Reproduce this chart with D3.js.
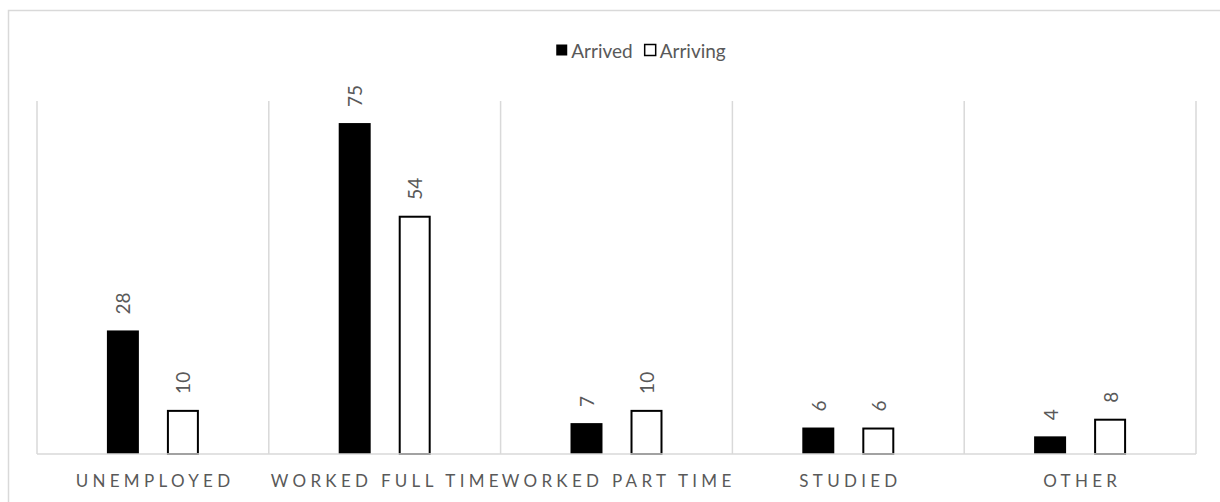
<!DOCTYPE html>
<html>
<head>
<meta charset="utf-8">
<script src="https://cdn.jsdelivr.net/npm/d3@7"></script>
<style>
  html, body { margin: 0; padding: 0; background: #ffffff; }
  svg { display: block; }
  text { font-family: Lato, "Open Sans", sans-serif; }
</style>
</head>
<body>
<svg id="chart" width="1220" height="502"></svg>
<script>
// Previous status of respondents, by group
const categories = ["UNEMPLOYED", "WORKED FULL TIME", "WORKED PART TIME", "STUDIED", "OTHER"];
const seriesNames = ["Arrived", "Arriving"];
const arrived = [28, 75, 7, 6, 4];
const arriving = [10, 54, 10, 6, 8];
const seriesValues = [arrived, arriving];

const plot = { left: 37, right: 1196, top: 101, bottom: 454 };
const textGray = "#595959";
const lineGray = "#d9d9d9";

const svg = d3.select("#chart");

// chart area frame
svg.append("rect")
  .attr("x", 8.5).attr("y", 10.5)
  .attr("width", 1230).attr("height", 510)
  .attr("fill", "#fff")
  .attr("stroke", lineGray).attr("stroke-width", 1.5);

const x = d3.scaleBand()
  .domain(categories)
  .range([plot.left, plot.right])
  .padding(0);

const xSub = d3.scaleBand()
  .domain(seriesNames)
  .range([0, x.bandwidth()])
  .paddingInner(0.467)
  .paddingOuter(1.165);

const y = d3.scaleLinear()
  .domain([0, 80])
  .range([plot.bottom, plot.top]);

// vertical separators between categories
const edges = categories.map(c => x(c)).concat([plot.right]);
svg.append("g")
  .selectAll("line")
  .data(edges)
  .join("line")
  .attr("x1", d => d).attr("x2", d => d)
  .attr("y1", y(80)).attr("y2", y(0))
  .attr("stroke", lineGray).attr("stroke-width", 1.5);

// bars
const rows = [];
categories.forEach((c, i) => {
  seriesNames.forEach((s, j) => rows.push({ cat: c, series: s, value: seriesValues[j][i] }));
});

const bars = svg.append("g");
bars.selectAll("rect")
  .data(rows)
  .join("rect")
  .attr("x", d => x(d.cat) + xSub(d.series) + (d.series === "Arriving" ? 1 : 0))
  .attr("y", d => y(d.value) + (d.series === "Arriving" ? 1 : 0))
  .attr("width", d => xSub.bandwidth() - (d.series === "Arriving" ? 2 : 0))
  .attr("height", d => y(0) - y(d.value) - (d.series === "Arriving" ? 1 : 0))
  .attr("fill", d => d.series === "Arrived" ? "#000" : "#fff")
  .attr("stroke", d => d.series === "Arriving" ? "#000" : "none")
  .attr("stroke-width", 2);

// category axis line
svg.append("line")
  .attr("x1", plot.left).attr("x2", plot.right)
  .attr("y1", y(0)).attr("y2", y(0))
  .attr("stroke", lineGray).attr("stroke-width", 1.5);

// value labels, rotated
svg.append("g")
  .selectAll("text")
  .data(rows)
  .join("text")
  .attr("transform", d => {
    const cx = x(d.cat) + xSub(d.series) + xSub.bandwidth() / 2;
    const cy = y(d.value) - 16;
    return `translate(${cx},${cy}) rotate(-90)`;
  })
  .attr("text-anchor", "start")
  .attr("dominant-baseline", "central")
  .attr("fill", textGray)
  .attr("font-size", 19)
  .text(d => d.value);

// category labels
const spacing = 4.3;
svg.append("g")
  .selectAll("text")
  .data(categories)
  .join("text")
  .attr("x", d => x(d) + x.bandwidth() / 2 + spacing / 2)
  .attr("y", 487)
  .attr("text-anchor", "middle")
  .attr("fill", textGray)
  .attr("font-size", 17)
  .attr("letter-spacing", spacing + "px")
  .text(d => d);

// legend
const legend = svg.append("g");
const legendY = 50;
const sq = 11, gapText = 4, gapItem = 12;
const items = seriesNames.map((s, i) => {
  const g = legend.append("g");
  g.append("rect")
    .attr("x", 0).attr("y", legendY - sq / 2)
    .attr("width", sq).attr("height", sq)
    .attr("fill", i === 0 ? "#000" : "#fff")
    .attr("stroke", "#000").attr("stroke-width", i === 0 ? 0 : 1.5);
  const t = g.append("text")
    .attr("x", sq + gapText).attr("y", legendY)
    .attr("dominant-baseline", "central")
    .attr("fill", textGray)
    .attr("font-size", 19)
    .text(s);
  return { g, w: sq + gapText + t.node().getComputedTextLength() };
});
const totalW = d3.sum(items, d => d.w) + gapItem * (items.length - 1);
let lx = 641 - totalW / 2;
items.forEach(it => {
  it.g.attr("transform", `translate(${lx},0)`);
  lx += it.w + gapItem;
});
</script>
</body>
</html>
